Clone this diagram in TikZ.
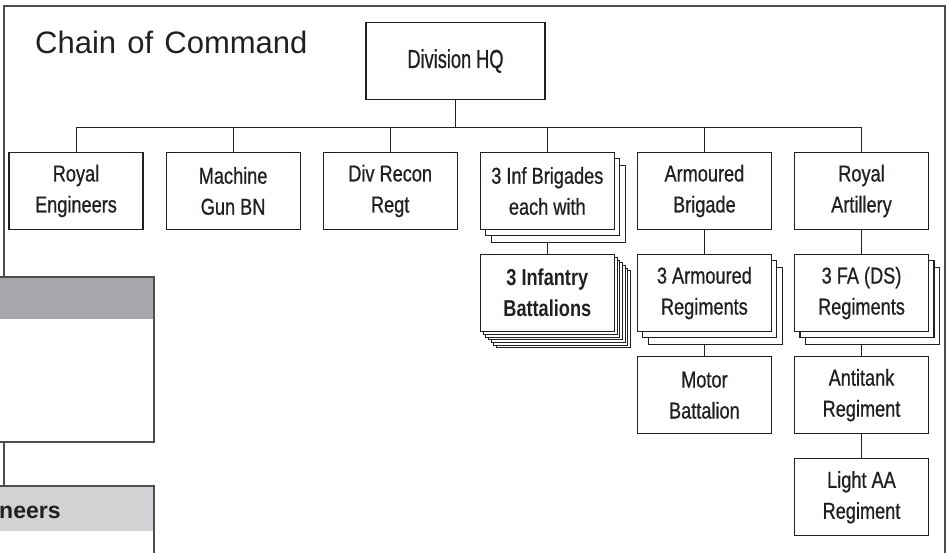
\documentclass[tikz,border=0pt]{standalone}
\usepackage{fontspec}
\setmainfont{Liberation Sans}
\newfontfamily\condfont[FakeStretch=0.79, FakeBold=0.7]{Liberation Sans}
\newfontfamily\condbold[FakeStretch=0.79]{Liberation Sans}
\newfontfamily\hqfont[FakeStretch=0.7, FakeBold=0.7]{Liberation Sans}
\newfontfamily\titlefont[WordSpace=1.3]{Liberation Sans}
\usetikzlibrary{positioning, shadows, backgrounds}
\definecolor{inkgray}{HTML}{231F20}
\definecolor{headdark}{HTML}{A7A8AB}
\definecolor{headlight}{HTML}{D1D2D4}
\definecolor{framegray}{HTML}{4D4D4F}

\begin{document}
\begin{tikzpicture}[x=1pt, y=-1pt, node distance=24pt and 22pt,
    unit/.style={rectangle, draw=inkgray, fill=white, line width=1.1pt, minimum width=134pt, minimum height=77pt, inner sep=0pt, align=center, text=inkgray, font=\condfont\fontsize{23}{31}\selectfont},
    trio/.style={copy shadow={shadow xshift=11pt, shadow yshift=-13pt, draw=inkgray, line width=1.1pt},
                 copy shadow={shadow xshift=5.5pt, shadow yshift=-6pt, draw=inkgray, line width=1.1pt}},
    bnstack/.style={copy shadow={shadow xshift=16.2pt, shadow yshift=-16.2pt, draw=inkgray, line width=0.8pt},
                    copy shadow={shadow xshift=13.5pt, shadow yshift=-13.5pt, draw=inkgray, line width=0.8pt},
                    copy shadow={shadow xshift=10.8pt, shadow yshift=-10.8pt, draw=inkgray, line width=0.8pt},
                    copy shadow={shadow xshift=8.1pt, shadow yshift=-8.1pt, draw=inkgray, line width=0.8pt},
                    copy shadow={shadow xshift=5.4pt, shadow yshift=-5.4pt, draw=inkgray, line width=0.8pt},
                    copy shadow={shadow xshift=2.7pt, shadow yshift=-2.7pt, draw=inkgray, line width=0.8pt}},
    link/.style={draw=inkgray, line width=1pt},
    frame/.style={draw=framegray, line width=1.8pt},
    panel/.style={draw=framegray, line width=1.2pt}]
    \useasboundingbox (0,0) rectangle (950,552);
    \clip (0,0) rectangle (950,552);
    \draw [frame] (4,600) |- (945,6) -- (945,600);
    \filldraw [panel, fill=white] (-5,277) rectangle (154,442);
    \fill [headdark] (-5,277.6) rectangle (153.4,319);
    \filldraw [panel, fill=white] (-5,486) rectangle (154,600);
    \fill [headlight] (-5,486.6) rectangle (153.4,531);
    \node [anchor=base west, inner sep=0pt, text=inkgray, font=\bfseries\fontsize{23}{26}\selectfont] (engpanel) at (-1,518) {neers};
    \node [anchor=base west, inner sep=0pt, text=inkgray, font=\titlefont\fontsize{31}{36}\selectfont] (title) at (35,53) {Chain of Command};
    \node [unit, minimum width=179pt, font=\hqfont\fontsize{26}{31}\selectfont] (hq) at (455.5,61) {Division HQ};
    \node [unit] (re) at (76,191) {Royal\\Engineers};
    \node [unit, right=of re] (mg) {Machine\\Gun BN};
    \node [unit, right=of mg] (recon) {Div Recon\\Regt};
    \node [unit, trio, right=of recon] (infbde) {3 Inf Brigades\\each with};
    \node [unit, right=of infbde] (armbde) {Armoured\\Brigade};
    \node [unit, right=of armbde] (ra) {Royal\\Artillery};
    \node [unit, bnstack, below=of infbde, font=\condbold\bfseries\fontsize{23}{31}\selectfont] (infbn) {3 Infantry\\Battalions};
    \node [unit, trio, below=of armbde] (armregt) {3 Armoured\\Regiments};
    \node [unit, below=of armregt] (motor) {Motor\\Battalion};
    \node [unit, trio, below=of ra] (fa) {3 FA (DS)\\Regiments};
    \node [unit, below=of fa] (antitank) {Antitank\\Regiment};
    \node [unit, below=of antitank] (lightaa) {Light AA\\Regiment};
    \begin{scope}[on background layer]
        \coordinate (bus) at ([yshift=-27pt]hq.south);
        \path [link] (hq) -- (bus);
        \foreach \u in {re, mg, recon, infbde, armbde, ra}
            \path [link] (bus) -| (\u);
        \path [link] (infbde) -- (infbn);
        \path [link] (armbde) -- (armregt);
        \path [link] (armregt) -- (motor);
        \path [link] (ra) -- (fa);
        \path [link] (fa) -- (antitank);
        \path [link] (antitank) -- (lightaa);
    \end{scope}
\end{tikzpicture}
\end{document}
